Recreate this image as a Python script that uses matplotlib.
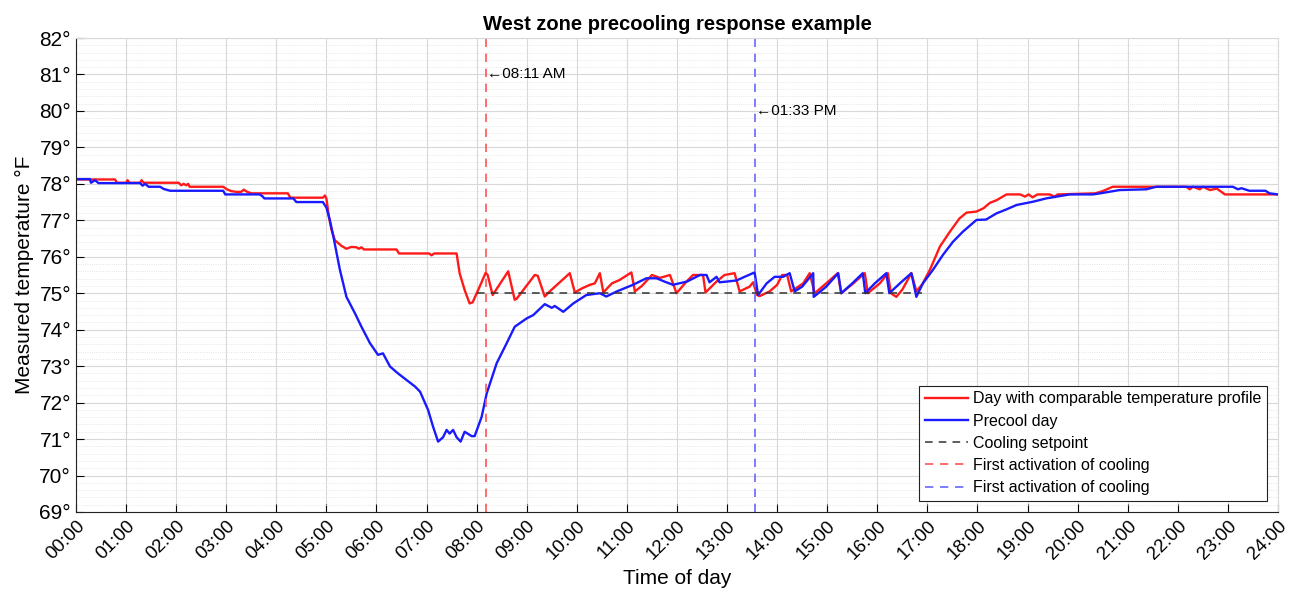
import numpy as np
import matplotlib as mpl
mpl.use('Agg')
import matplotlib.pyplot as plt
from matplotlib.ticker import MultipleLocator

plt.rcParams['font.family'] = ['Liberation Sans', 'DejaVu Sans']

# comparable day (red)
ref_hours = [0, 0.78, 0.82, 1.0, 1.03, 1.07, 1.28, 1.31, 1.35, 2.05, 2.1, 2.15, 2.2, 2.24,
             2.27, 2.94, 3.0, 3.1, 3.2, 3.3, 3.35, 3.42, 3.5, 4.23, 4.28, 4.93, 4.97, 5.0,
             5.05, 5.1, 5.17, 5.3, 5.4, 5.5, 5.6, 5.65, 5.7, 5.75, 6.4, 6.45, 7.05, 7.1,
             7.15, 7.6, 7.66, 7.76, 7.86, 7.92, 8.06, 8.18, 8.22, 8.32, 8.63, 8.76, 8.8,
             9.16, 9.22, 9.36, 9.46, 9.86, 9.96, 10.1, 10.26, 10.36, 10.46, 10.53, 10.7,
             10.85, 11.09, 11.16, 11.3, 11.5, 11.66, 11.86, 11.99, 12.19, 12.32, 12.52,
             12.57, 12.79, 12.95, 13.15, 13.25, 13.45, 13.52, 13.6, 13.65, 13.85, 14.0,
             14.1, 14.2, 14.28, 14.52, 14.65, 14.75, 14.98, 15.21, 15.28, 15.52, 15.75,
             15.81, 16.05, 16.21, 16.27, 16.38, 16.5, 16.68, 16.78, 16.9, 17.05, 17.25,
             17.45, 17.64, 17.78, 17.98, 18.12, 18.25, 18.38, 18.58, 18.85, 18.95, 19.02,
             19.1, 19.2, 19.44, 19.54, 19.6, 20.35, 20.5, 20.7, 22.17, 22.24, 22.3, 22.44,
             22.5, 22.64, 22.78, 22.94, 24.0]
ref_temp = [78.12, 78.12, 78.03, 78.03, 78.1, 78.03, 78.03, 78.1, 78.03, 78.03, 77.96, 78.0,
            77.96, 78.0, 77.92, 77.92, 77.86, 77.8, 77.78, 77.78, 77.84, 77.78, 77.74, 77.74,
            77.62, 77.62, 77.68, 77.6, 77.1, 76.75, 76.45, 76.3, 76.22, 76.27, 76.26, 76.22,
            76.26, 76.2, 76.2, 76.09, 76.09, 76.04, 76.09, 76.09, 75.55, 75.09, 74.72, 74.75,
            75.18, 75.56, 75.5, 74.95, 75.6, 74.82, 74.85, 75.5, 75.48, 74.91, 75.05, 75.55,
            75.02, 75.13, 75.23, 75.27, 75.55, 75.02, 75.27, 75.36, 75.57, 75.05, 75.2, 75.5,
            75.42, 75.5, 75.0, 75.32, 75.5, 75.5, 75.02, 75.32, 75.5, 75.55, 75.05, 75.18,
            75.3, 74.95, 74.92, 75.05, 75.23, 75.5, 75.5, 75.05, 75.27, 75.55, 75.0, 75.27,
            75.55, 75.0, 75.27, 75.55, 75.0, 75.27, 75.55, 75.0, 74.9, 75.1, 75.55, 75.05,
            75.25, 75.64, 76.28, 76.69, 77.05, 77.21, 77.24, 77.33, 77.48, 77.55, 77.71,
            77.71, 77.65, 77.71, 77.63, 77.71, 77.71, 77.65, 77.71, 77.74, 77.8, 77.92,
            77.92, 77.85, 77.92, 77.85, 77.92, 77.83, 77.87, 77.71, 77.71]

# precool day (blue)
pre_hours = [0, 0.28, 0.3, 0.38, 0.45, 1.28, 1.33, 1.38, 1.45, 1.68, 1.75, 1.88, 2.94, 2.98,
             3.67, 3.73, 3.76, 4.34, 4.4, 4.93, 5.0, 5.07, 5.14, 5.27, 5.4, 5.57, 5.7, 5.87,
             6.03, 6.13, 6.27, 6.43, 6.6, 6.77, 6.87, 7.03, 7.13, 7.23, 7.33, 7.4, 7.46, 7.53,
             7.6, 7.68, 7.76, 7.9, 7.96, 8.1, 8.2, 8.4, 8.6, 8.76, 9.0, 9.13, 9.36, 9.5, 9.56,
             9.73, 9.93, 10.19, 10.46, 10.59, 10.8, 11.12, 11.39, 11.59, 11.75, 11.92, 12.2,
             12.46, 12.59, 12.65, 12.79, 12.85, 13.0, 13.19, 13.35, 13.55, 13.62, 13.79,
             13.95, 14.12, 14.25, 14.35, 14.5, 14.72, 14.73, 14.98, 15.22, 15.28, 15.5, 15.71,
             15.76, 15.95, 16.18, 16.24, 16.45, 16.68, 16.78, 16.91, 17.11, 17.31, 17.51,
             17.71, 17.98, 18.17, 18.38, 18.58, 18.78, 19.11, 19.37, 19.84, 20.31, 20.45,
             20.84, 21.37, 21.57, 23.1, 23.2, 23.27, 23.43, 23.75, 23.83, 24.0]
pre_temp = [78.13, 78.13, 78.03, 78.1, 78.02, 78.02, 77.95, 78.0, 77.92, 77.92, 77.86, 77.81,
            77.81, 77.71, 77.71, 77.65, 77.6, 77.6, 77.5, 77.5, 77.35, 77.0, 76.55, 75.64,
            74.9, 74.45, 74.08, 73.63, 73.31, 73.35, 72.99, 72.8, 72.62, 72.44, 72.3, 71.8,
            71.34, 70.93, 71.05, 71.25, 71.15, 71.25, 71.05, 70.93, 71.2, 71.08, 71.08, 71.61,
            72.25, 73.08, 73.63, 74.08, 74.31, 74.4, 74.7, 74.6, 74.65, 74.49, 74.72, 74.95,
            75.0, 74.91, 75.05, 75.23, 75.41, 75.41, 75.32, 75.23, 75.32, 75.5, 75.5, 75.3,
            75.45, 75.3, 75.32, 75.35, 75.45, 75.57, 74.95, 75.27, 75.45, 75.45, 75.55, 75.05,
            75.18, 75.55, 74.9, 75.18, 75.55, 75.0, 75.27, 75.55, 75.0, 75.27, 75.55, 75.0,
            75.27, 75.55, 74.9, 75.27, 75.64, 76.05, 76.41, 76.69, 77.01, 77.02, 77.19, 77.3,
            77.42, 77.51, 77.6, 77.71, 77.71, 77.74, 77.83, 77.85, 77.92, 77.92, 77.85, 77.88,
            77.81, 77.81, 77.74, 77.71]

setpoint = 75
setpoint_span = [8.0, 16.9]
ref_first_on = 8 + 11 / 60
pre_first_on = 13 + 33 / 60
ref_first_label = "\u219008:11 AM"
pre_first_label = "\u219001:33 PM"

x_ticks = list(range(0, 25))
x_labels = ["%02d:00" % h for h in x_ticks]
y_ticks = list(range(69, 83))
y_labels = ["%d\u00b0" % t for t in y_ticks]

fig = plt.figure(figsize=(13.01, 6.10), dpi=100)
ax = fig.add_axes([0.0584, 0.1607, 0.9239, 0.777])

ax.plot(ref_hours, ref_temp, color='#ff1a1a', lw=1.7,
        label="Day with comparable temperature profile")
ax.plot(pre_hours, pre_temp, color='#1a1aff', lw=1.7, label="Precool day")
ax.plot(setpoint_span, [setpoint, setpoint], color='#333333', lw=1.1,
        ls=(0, (5, 4)), label="Cooling setpoint")
ax.axvline(ref_first_on, color='#ff5555', lw=1.2, ls=(0, (5, 4)),
           label="First activation of cooling")
ax.axvline(pre_first_on, color='#6666ff', lw=1.2, ls=(0, (5, 4)),
           label="First activation of cooling")
ax.text(ref_first_on + 0.02, 81, ref_first_label, fontsize=11, va='center', ha='left')
ax.text(pre_first_on + 0.02, 80, pre_first_label, fontsize=11, va='center', ha='left')

ax.set_xlim(0, 24)
ax.set_ylim(69, 82)
ax.set_xticks(x_ticks)
ax.set_xticklabels(x_labels, rotation=45, ha='right', rotation_mode='anchor', fontsize=13.5)
ax.set_yticks(y_ticks)
ax.set_yticklabels(y_labels, fontsize=15)
ax.yaxis.set_minor_locator(MultipleLocator(0.2))
ax.tick_params(axis='both', which='major', direction='in', length=6, width=0.8)
ax.tick_params(axis='y', which='minor', length=0)
ax.tick_params(axis='x', pad=4)
ax.grid(True, which='major', color='#d8d8d8', lw=0.8)
ax.grid(True, which='minor', axis='y', color='#dddddd', lw=0.6, ls=':')
for s in ['top', 'right']:
    ax.spines[s].set_color('#d8d8d8')
for s in ['left', 'bottom']:
    ax.spines[s].set_color('#222222')

ax.set_xlabel("Time of day", fontsize=15)
ax.set_ylabel("Measured temperature \u00b0F", fontsize=15)
ax.set_title("West zone precooling response example", fontsize=14.5,
             fontweight='bold', pad=6)

leg = ax.legend(loc='lower right', fontsize=11.5, fancybox=False, framealpha=1,
                edgecolor='#222222', handlelength=2.7, handletextpad=0.3,
                labelspacing=0.45, borderaxespad=0.7, borderpad=0.35)
leg.get_frame().set_linewidth(0.8)

fig.savefig("out.png", dpi=100)
